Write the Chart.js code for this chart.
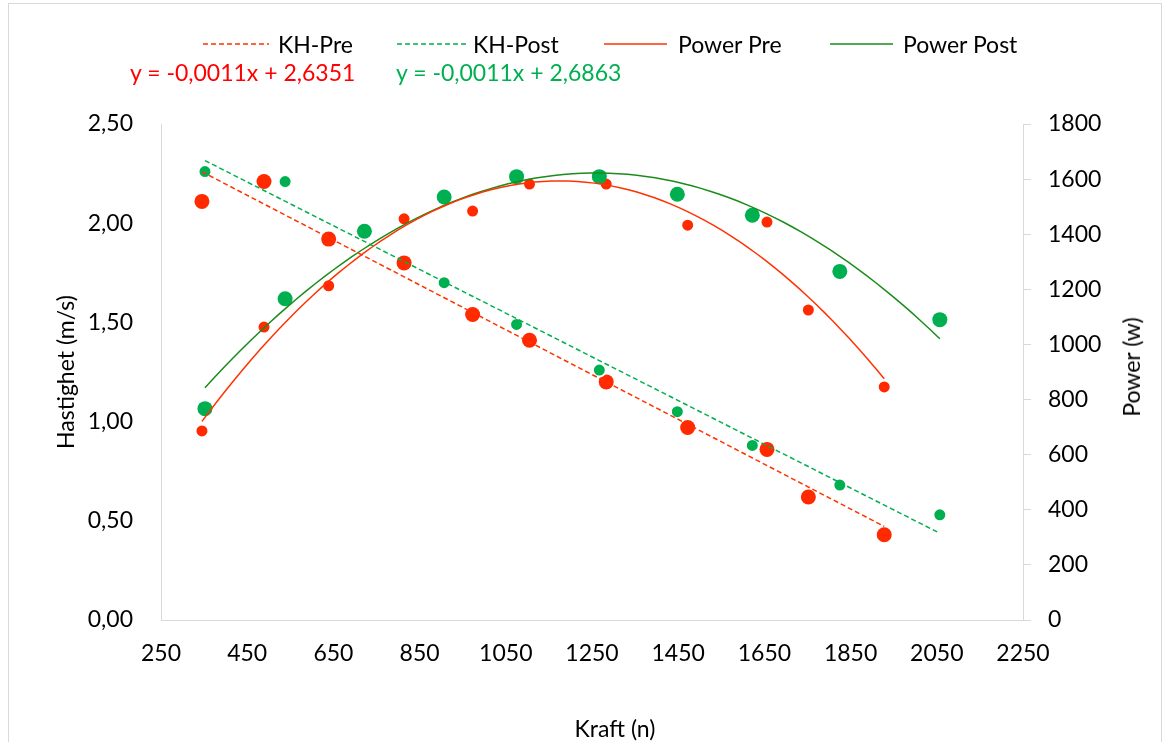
<!DOCTYPE html>
<html>
<head>
<meta charset="utf-8">
<script src="https://cdn.jsdelivr.net/npm/chart.js@4/dist/chart.umd.min.js"></script>
<style>
  body { margin: 0; background: #fff; font-family: Lato, sans-serif; }
  #wrap { position: relative; width: 1169px; height: 742px; overflow: hidden; }
  #frame { position: absolute; left: 8px; top: 3px; width: 1152px; height: 800px; border: 1px solid #d9d9d9; }
  canvas { position: absolute; left: 0; top: 0; }
  .lbl { position: absolute; font-size: 23px; line-height: 28px; white-space: nowrap; color: #000; }
  svg { position: absolute; left: 0; top: 0; }
</style>
</head>
<body>
<div id="wrap">
  <div id="frame"></div>
  <canvas id="chart" width="1169" height="742"></canvas>
  <svg width="1169" height="100">
    <line x1="203" y1="44" x2="269" y2="44" stroke="#ff3300" stroke-width="1.5" stroke-dasharray="5,3"/>
    <line x1="397" y1="44" x2="466" y2="44" stroke="#00b050" stroke-width="1.5" stroke-dasharray="5,3"/>
    <line x1="604" y1="44" x2="667" y2="44" stroke="#ff3300" stroke-width="1.5"/>
    <line x1="830" y1="44" x2="893" y2="44" stroke="#1a8c1a" stroke-width="1.5"/>
  </svg>
  <div class="lbl" style="left:278px;top:30px">KH-Pre</div>
  <div class="lbl" style="left:473px;top:30px">KH-Post</div>
  <div class="lbl" style="left:678px;top:30px">Power Pre</div>
  <div class="lbl" style="left:903px;top:30px">Power Post</div>
  <div class="lbl" style="left:130px;top:58px;color:#ff0000">y = -0,0011x + 2,6351</div>
  <div class="lbl" style="left:396px;top:58px;color:#00b050">y = -0,0011x + 2,6863</div>
  <div class="lbl" style="left:615px;top:714px;transform:translateX(-50%)">Kraft (n)</div>
  <div class="lbl" style="left:1131px;top:367px;transform:translate(-50%,-50%) rotate(-90deg)">Power (w)</div>
</div>
<script>
// data
const kraftPre = [345, 489, 639, 814, 973, 1105, 1283, 1472, 1656, 1752, 1928];
const hastPre = [2.11, 2.21, 1.92, 1.80, 1.54, 1.41, 1.20, 0.97, 0.86, 0.62, 0.43];
const powerPre = [686, 1063, 1213, 1456, 1484, 1582, 1582, 1433, 1444, 1125, 846];

const kraftPost = [352, 538, 722, 907, 1075, 1267, 1448, 1622, 1825, 2057];
const hastPost = [2.26, 2.21, 1.96, 1.70, 1.49, 1.26, 1.05, 0.88, 0.68, 0.53];
const powerPost = [767, 1166, 1411, 1535, 1609, 1609, 1545, 1469, 1265, 1090];

const xTicks = [250, 450, 650, 850, 1050, 1250, 1450, 1650, 1850, 2050, 2250];
const xTickLabels = ['250', '450', '650', '850', '1050', '1250', '1450', '1650', '1850', '2050', '2250'];
const hastTicks = [0, 0.5, 1, 1.5, 2, 2.5];
const hastTickLabels = ['0,00', '0,50', '1,00', '1,50', '2,00', '2,50'];
const powerTicks = [0, 200, 400, 600, 800, 1000, 1200, 1400, 1600, 1800];
const powerTickLabels = ['0', '200', '400', '600', '800', '1000', '1200', '1400', '1600', '1800'];

const RED = '#ff2a00';
const RED_LINE = '#ff3300';
const GREEN = '#00b050';
const GREEN_LINE = '#1a8c1a';

// trendlines (least squares, like excel)
function linFit(xs, ys) {
    const n = xs.length;
    const mx = xs.reduce((a, b) => a + b, 0) / n;
    const my = ys.reduce((a, b) => a + b, 0) / n;
    let sxy = 0, sxx = 0;
    xs.forEach((x, i) => { sxy += (x - mx) * (ys[i] - my); sxx += (x - mx) * (x - mx); });
    const b = sxy / sxx;
    const a = my - b * mx;
    const lo = Math.min(...xs), hi = Math.max(...xs);
    return [{ x: lo, y: a + b * lo }, { x: hi, y: a + b * hi }];
}

function polyFit2(xs, ys) {
    const n = xs.length;
    const mx = xs.reduce((a, b) => a + b, 0) / n;
    let s = [0, 0, 0, 0, 0], t = [0, 0, 0];
    xs.forEach((x0, i) => {
        const x = x0 - mx;
        for (let k = 0; k < 5; k++) s[k] += Math.pow(x, k);
        for (let k = 0; k < 3; k++) t[k] += ys[i] * Math.pow(x, k);
    });
    const M = [[s[0], s[1], s[2]], [s[1], s[2], s[3]], [s[2], s[3], s[4]]];
    const det = m => m[0][0] * (m[1][1] * m[2][2] - m[1][2] * m[2][1])
        - m[0][1] * (m[1][0] * m[2][2] - m[1][2] * m[2][0])
        + m[0][2] * (m[1][0] * m[2][1] - m[1][1] * m[2][0]);
    const D = det(M);
    const c = [0, 1, 2].map(j => det(M.map((row, r) => row.map((v, k) => k === j ? t[r] : v))) / D);
    const lo = Math.min(...xs), hi = Math.max(...xs);
    const pts = [];
    for (let i = 0; i <= 80; i++) {
        const x = lo + (hi - lo) * i / 80;
        const u = x - mx;
        pts.push({ x: x, y: c[0] + c[1] * u + c[2] * u * u });
    }
    return pts;
}

const toPts = (xs, ys) => xs.map((x, i) => ({ x: x, y: ys[i] }));

new Chart(document.getElementById('chart'), {
    type: 'scatter',
    data: {
        datasets: [
            { type: 'line', label: 'KH-Pre', data: linFit(kraftPre, hastPre), yAxisID: 'y', borderColor: RED_LINE, borderWidth: 1.5, borderDash: [5, 3], pointRadius: 0, fill: false, order: 0 },
            { type: 'line', label: 'KH-Post', data: linFit(kraftPost, hastPost), yAxisID: 'y', borderColor: GREEN, borderWidth: 1.5, borderDash: [5, 3], pointRadius: 0, fill: false, order: 0 },
            { type: 'line', label: 'Power Pre', data: polyFit2(kraftPre, powerPre), yAxisID: 'y1', borderColor: RED_LINE, borderWidth: 1.5, pointRadius: 0, fill: false, order: 0 },
            { type: 'line', label: 'Power Post', data: polyFit2(kraftPost, powerPost), yAxisID: 'y1', borderColor: GREEN_LINE, borderWidth: 1.5, pointRadius: 0, fill: false, order: 0 },
            { label: 'Hastighet Pre', data: toPts(kraftPre, hastPre), yAxisID: 'y', backgroundColor: RED, borderWidth: 0, pointRadius: 7.5, order: 4 },
            { label: 'Hastighet Post', data: toPts(kraftPost, hastPost), yAxisID: 'y', backgroundColor: GREEN, borderColor: '#fff', borderWidth: 2, pointRadius: 6.5, order: 3 },
            { label: 'Power Pre pts', data: toPts(kraftPre, powerPre), yAxisID: 'y1', backgroundColor: RED, borderColor: '#fff', borderWidth: 2, pointRadius: 6.5, order: 2 },
            { label: 'Power Post pts', data: toPts(kraftPost, powerPost), yAxisID: 'y1', backgroundColor: GREEN, borderWidth: 0, pointRadius: 7.5, order: 1 }
        ]
    },
    options: {
        responsive: false,
        devicePixelRatio: 1,
        animation: false,
        layout: { padding: { top: 124, left: 0, right: 0, bottom: 0 } },
        plugins: { legend: { display: false }, tooltip: { enabled: false } },
        scales: {
            x: {
                type: 'linear', min: 250, max: 2250,
                afterBuildTicks: s => { s.ticks = xTicks.map(v => ({ value: v })); },
                afterFit: s => { s.height = 122; },
                grid: { display: false, drawTicks: false },
                border: { color: '#d9d9d9', width: 1 },
                ticks: { color: '#000', font: { family: 'Lato', size: 23 }, padding: 20, maxRotation: 0, callback: (v, i) => xTickLabels[i] }
            },
            y: {
                position: 'left', min: 0, max: 2.5,
                afterBuildTicks: s => { s.ticks = hastTicks.map(v => ({ value: v })); },
                afterFit: s => { s.width = 161; },
                grid: { display: false, drawTicks: false },
                border: { color: '#d9d9d9', width: 1 },
                ticks: { color: '#000', font: { family: 'Lato', size: 23 }, padding: 28, callback: (v, i) => hastTickLabels[i] },
                title: { display: true, text: 'Hastighet (m/s)', color: '#000', font: { family: 'Lato', size: 23 }, padding: { top: 53, bottom: 0 } }
            },
            y1: {
                position: 'right', min: 0, max: 1800,
                afterBuildTicks: s => { s.ticks = powerTicks.map(v => ({ value: v })); },
                afterFit: s => { s.width = 146; },
                grid: { display: true, drawOnChartArea: false, drawTicks: true, tickLength: 8, color: '#d9d9d9' },
                border: { color: '#d9d9d9', width: 1 },
                ticks: { color: '#000', font: { family: 'Lato', size: 23 }, padding: 17, callback: (v, i) => powerTickLabels[i] }
            }
        }
    }
});
</script>
</body>
</html>
